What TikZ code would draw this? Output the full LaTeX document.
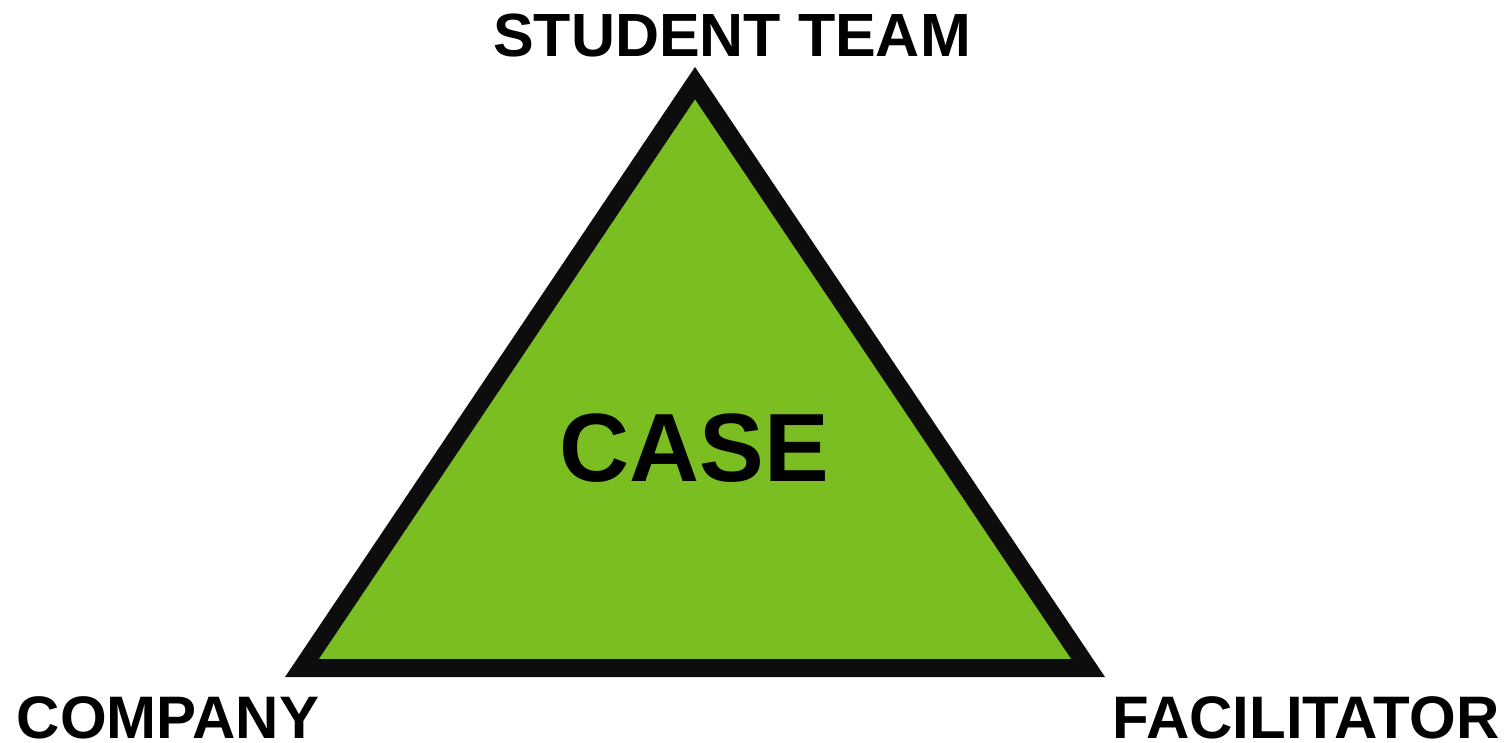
\documentclass[tikz,border=0pt]{standalone}
\usepackage{fontspec}
\setmainfont{Liberation Sans}
\definecolor{casegreen}{HTML}{7ABE22}
\begin{document}
\begin{tikzpicture}[x=1pt,y=-1pt,
  lbl/.style={font=\fontsize{60}{60}\selectfont\bfseries, inner sep=0pt, anchor=base},
  big/.style={font=\fontsize{97}{97}\selectfont\bfseries, inner sep=0pt, anchor=base},
  tri/.style={draw=black!95, line width=18pt, line join=miter, miter limit=10, fill=casegreen}]
  \useasboundingbox (0,0) rectangle (1510,743);
  \coordinate (top) at (695,83.1);
  \coordinate (bl) at (301.9,668);
  \coordinate (br) at (1088.1,668);
  \draw[tri] (top) -- (bl) -- (br) -- cycle;
  \node[lbl, font=\fontsize{61}{61}\selectfont\bfseries] (student) at (732,57) {STUDENT TEAM};
  \node[big] (case) at (694,481) {CASE};
  \node[lbl] (company) at (168,738) {COMPANY};
  \node[lbl] (facilitator) at (1306,738) {FACILITATOR};
\end{tikzpicture}
\end{document}
